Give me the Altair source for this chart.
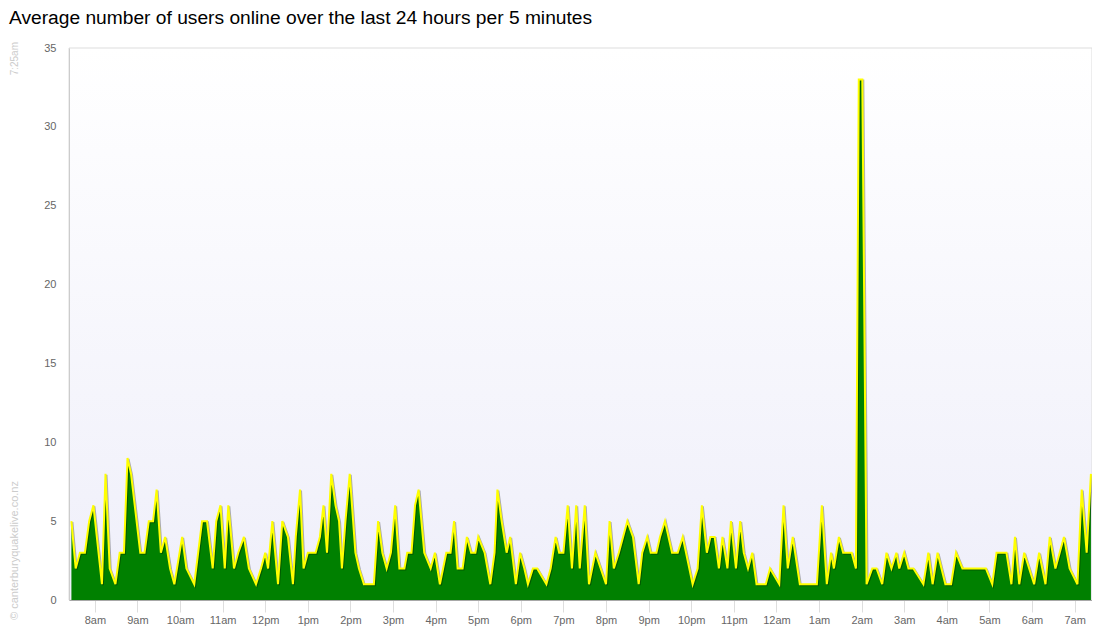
import altair as alt
import pandas as pd

TITLE = "Average number of users online over the last 24 hours per 5 minutes"

# minutes after 7:25am at which the plotted points lie
minutes = [
    2, 8, 14, 21, 27, 33, 45, 50, 56, 64,
    70, 76, 81, 86, 99, 105, 111, 117, 122, 128,
    134, 141, 147, 158, 164, 175, 186, 193, 201, 206,
    212, 218, 223, 231, 237, 245, 252, 262, 269, 275,
    279, 285, 293, 299, 307, 314, 318, 324, 329, 335,
    346, 352, 357, 362, 368, 374, 379, 383, 388, 394,
    402, 407, 414, 428, 434, 440, 446, 452, 458, 464,
    471, 475, 481, 486, 491, 499, 508, 514, 521, 530,
    536, 541, 546, 553, 559, 565, 571, 575, 584, 592,
    598, 602, 608, 615, 620, 628, 634, 640, 645, 652,
    658, 671, 677, 684, 689, 695, 701, 707, 713, 718,
    725, 731, 740, 755, 760, 766, 773, 779, 785, 793,
    801, 806, 813, 818, 826, 831, 838, 848, 856, 863,
    877, 884, 890, 897, 902, 908, 914, 919, 926, 931,
    938, 944, 949, 955, 961, 967, 980, 986, 999, 1005,
    1011, 1018, 1028, 1052, 1059, 1066, 1072, 1076, 1083, 1089,
    1101, 1107, 1111, 1116, 1122, 1130, 1136, 1144, 1150, 1157,
    1164, 1168, 1175, 1181, 1188, 1202, 1209, 1215, 1222, 1233,
    1241, 1248, 1257, 1290, 1299, 1305, 1319, 1326, 1331, 1337,
    1344, 1358, 1365, 1374, 1380, 1388, 1400, 1408, 1419, 1425,
    1432, 1438,
]

users = [
    5, 2, 3, 3, 5, 6, 1, 8, 2, 1,
    3, 3, 9, 8, 3, 3, 5, 5, 7, 3,
    4, 2, 1, 4, 2, 1, 5, 5, 2, 5,
    6, 2, 6, 2, 3, 4, 2, 1, 2, 3,
    2, 5, 1, 5, 4, 1, 4, 7, 2, 3,
    3, 4, 6, 3, 8, 6, 5, 2, 5, 8,
    3, 2, 1, 1, 5, 3, 2, 3, 6, 2,
    2, 3, 3, 6, 7, 3, 2, 3, 1, 3,
    3, 5, 2, 2, 4, 3, 3, 4, 3, 1,
    3, 7, 5, 3, 4, 1, 3, 2, 1, 2,
    2, 1, 2, 4, 3, 3, 6, 2, 6, 2,
    6, 1, 3, 1, 5, 2, 3, 4, 5, 4,
    1, 3, 4, 3, 3, 4, 5, 3, 3, 4,
    1, 2, 6, 3, 4, 4, 2, 4, 2, 5,
    2, 5, 3, 2, 3, 1, 1, 2, 1, 6,
    2, 4, 1, 1, 6, 1, 3, 2, 4, 3,
    3, 2, 33, 33, 1, 2, 2, 1, 3, 2,
    3, 2, 3, 2, 2, 1, 3, 1, 3, 1,
    1, 3, 2, 2, 1, 3, 3, 1, 4, 1,
    3, 1, 3, 1, 4, 2, 4, 2, 1, 7,
    3, 8,
]

y_ticks = [0, 5, 10, 15, 20, 25, 30, 35]
hour_ticks = [8, 9, 10, 11, 12, 13, 14, 15, 16, 17, 18, 19, 20, 21, 22, 23,
              24, 25, 26, 27, 28, 29, 30, 31]  # hours after midnight of day 1

start = pd.Timestamp("2024-01-10 07:25:00")
df = pd.DataFrame({
    "time": [start + pd.Timedelta(minutes=m) for m in minutes],
    "users": users,
})

W, H = 1023, 552

tick_values = [
    alt.DateTime(year=2024, month=1, date=10 + h // 24, hours=h % 24)
    for h in hour_ticks
]

x_scale = alt.Scale(domain=[
    alt.DateTime(year=2024, month=1, date=10, hours=7, minutes=23, seconds=36),
    alt.DateTime(year=2024, month=1, date=11, hours=7, minutes=24, seconds=30),
])
y_scale = alt.Scale(domain=[0, 35], nice=False)

x_enc = alt.X(
    "time:T", scale=x_scale, title=None,
    axis=alt.Axis(
        values=tick_values,
        labelExpr="lower(timeFormat(datum.value, '%-I%p'))",
        grid=False, domainColor="#a8a8a8", tickColor="#dddddd", tickSize=12,
        labelColor="#666666", labelFontSize=11, labelFont="Liberation Sans",
        labelPadding=2, labelOverlap=False, labelFlush=False, zindex=1,
    ),
)
y_enc = alt.Y(
    "users:Q", scale=y_scale, title=None,
    axis=alt.Axis(
        values=y_ticks, grid=False, ticks=False, domainColor="#cccccc",
        labelColor="#666666", labelFontSize=11, labelFont="Liberation Sans",
        labelPadding=13, zindex=1,
    ),
)

# background: a gradient-filled area spanning the whole plot
bg_df = pd.DataFrame({
    "time": [pd.Timestamp("2024-01-10 07:23:36"), pd.Timestamp("2024-01-11 07:24:30")],
    "top": [35, 35],
})
bg = alt.Chart(bg_df).mark_area(
    color=alt.Gradient(
        gradient="linear",
        stops=[alt.GradientStop(color="#ffffff", offset=0),
               alt.GradientStop(color="#efeffa", offset=1)],
        x1=1, x2=1, y1=0, y2=1,
    ),
    stroke="#dddddd", strokeWidth=1,
).encode(x=alt.X("time:T", scale=x_scale), y=alt.Y("top:Q", scale=y_scale))

base = alt.Chart(df).encode(x=x_enc, y=y_enc)
area = base.mark_area(color="#008000", interpolate="linear")
shadow = base.mark_line(color="#000000", opacity=0.3, strokeWidth=2, xOffset=1, yOffset=1)
line = base.mark_line(color="#ffff00", strokeWidth=2)

stamp = alt.Chart(pd.DataFrame({"t": ["7:25am"]})).mark_text(
    angle=270, align="right", baseline="middle", fontSize=10,
    font="Liberation Sans", color="#cccccc",
).encode(text="t:N", x=alt.value(-54), y=alt.value(-6))

credit = alt.Chart(pd.DataFrame({"t": ["© canterburyquakelive.co.nz"]})).mark_text(
    angle=270, align="left", baseline="middle", fontSize=11,
    font="Liberation Sans", color="#cccccc",
).encode(text="t:N", x=alt.value(-54), y=alt.value(572))

chart = alt.layer(bg, area, shadow, line, stamp, credit).properties(
    width=W, height=H,
    title=alt.TitleParams(
        TITLE, anchor="start", fontSize=19.2, font="Liberation Sans",
        fontWeight="normal", color="#000000", dx=0, offset=13.5,
    ),
    autosize=alt.AutoSizeParams(type="none"),
    padding={"left": 61, "top": 40, "right": 0, "bottom": 30},
).configure_view(stroke="#dddddd", fill="#ffffff")

chart.save("out.html", embed_options={"renderer": "svg", "actions": False})
